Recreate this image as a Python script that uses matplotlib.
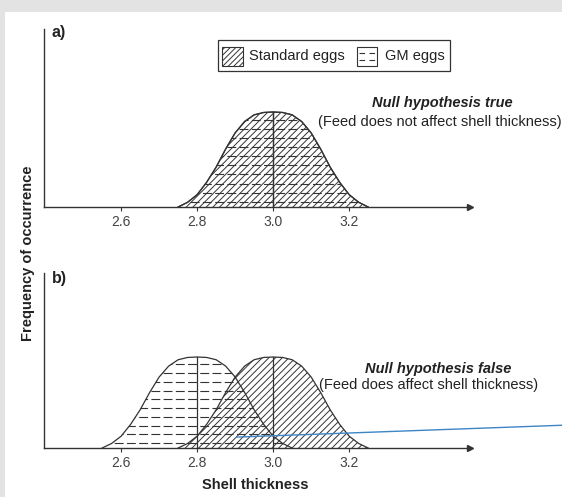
import matplotlib
matplotlib.use('Agg')
import matplotlib.pyplot as plt
from matplotlib.patches import Rectangle
import numpy as np

plt.rcParams['font.family'] = ['Liberation Sans', 'DejaVu Sans']
plt.rcParams['hatch.linewidth'] = 0.7

## bell shape: offset from the mean, height relative to the peak
profile_offset = [-0.25, -0.225, -0.2, -0.175, -0.15, -0.125, -0.1, -0.075, -0.05, -0.025, 0.0,
                  0.025, 0.05, 0.075, 0.1, 0.125, 0.15, 0.175, 0.2, 0.225, 0.25]
profile_height = [0.0, 0.05, 0.13, 0.26, 0.42, 0.61, 0.78, 0.90, 0.97, 0.995, 1.0,
                  0.995, 0.97, 0.90, 0.78, 0.61, 0.42, 0.26, 0.13, 0.05, 0.0]

## means of the two distributions in each panel
mean_std_a = 3.0
mean_gm_a = 3.0
mean_std_b = 3.0
mean_gm_b = 2.8

xticks = [2.6, 2.8, 3.0, 3.2]
xtick_labels = ['2.6', '2.8', '3.0', '3.2']

## stray blue line in panel b (data coords)
blue_x = [2.905, 3.76]
blue_y = [0.12, 0.25]

INK = '#333333'
TXT = '#222222'
W, H = 562, 497
FS = 10.5

fig = plt.figure(figsize=(W / 100, H / 100), dpi=100)
fig.patch.set_facecolor('white')


def draw_standard(ax, mean):
    xs = np.array(profile_offset) + mean
    ys = np.array(profile_height)
    ax.fill(xs, ys, facecolor='none', edgecolor=INK, hatch='/////', lw=0, zorder=2)
    ax.plot(xs, ys, color=INK, lw=0.9, zorder=4)
    ax.plot([mean, mean], [0, ys.max()], color=INK, lw=0.9, zorder=4)


def draw_gm(ax, mean):
    xs = np.array(profile_offset) + mean
    ys = np.array(profile_height)
    poly = ax.fill(xs, ys, facecolor='none', edgecolor='none', lw=0)[0]
    for level in np.arange(0.055, 0.95, 0.096):
        ln, = ax.plot([xs[0], xs[-1]], [level, level], color=INK, lw=0.8,
                      dashes=(8, 3), zorder=3)
        ln.set_clip_path(poly)
    ax.plot(xs, ys, color=INK, lw=0.9, zorder=4)
    ax.plot([mean, mean], [0, ys.max()], color=INK, lw=0.9, zorder=4)


def setup_axes(ax, ytop):
    ax.set_xlim(2.397, 3.518)
    ax.set_ylim(0, ytop)
    for s in ['top', 'right']:
        ax.spines[s].set_visible(False)
    for s in ['left', 'bottom']:
        ax.spines[s].set_color(INK)
        ax.spines[s].set_linewidth(1.0)
    ax.set_yticks([])
    ax.set_xticks(xticks)
    ax.set_xticklabels(xtick_labels)
    ax.tick_params(axis='x', length=3, width=0.8, color=INK, pad=3,
                   labelsize=10, labelcolor='#444444')
    ax.plot(1, 0, '>', color=INK, ms=4, transform=ax.get_yaxis_transform(), clip_on=False)
    ax.plot(0, 1, '^', color=INK, ms=4, transform=ax.get_xaxis_transform(), clip_on=False)
    ax.patch.set_alpha(0)


left = 44 / W
width = 426 / W
ax_a = fig.add_axes([left, 1 - 207 / H, width, 178 / H])
ax_b = fig.add_axes([left, 1 - 448 / H, width, 175 / H])

setup_axes(ax_a, 178 / 95)
draw_gm(ax_a, mean_gm_a)
draw_standard(ax_a, mean_std_a)

setup_axes(ax_b, 175 / 91)
draw_gm(ax_b, mean_gm_b)
draw_standard(ax_b, mean_std_b)
ax_b.plot(blue_x, blue_y, color='#3d85c6', lw=1.0, zorder=5, clip_on=False)

## overlay in pixel coordinates for frame, legend and labels
ov = fig.add_axes([0, 0, 1, 1], zorder=-1)
ov.set_xlim(0, W)
ov.set_ylim(H, 0)
ov.axis('off')
ov.add_patch(Rectangle((0, 0), W, 12, facecolor='#e3e3e3', edgecolor='none'))
ov.add_patch(Rectangle((0, 0), 5, H, facecolor='#e3e3e3', edgecolor='none'))

lg = fig.add_axes([0, 0, 1, 1], zorder=10)
lg.set_xlim(0, W)
lg.set_ylim(H, 0)
lg.axis('off')
lg.add_patch(Rectangle((218, 40), 232, 31, facecolor='white', edgecolor=INK, lw=0.9))
lg.add_patch(Rectangle((222, 47), 21, 19, facecolor='white', edgecolor=INK, lw=0.8, hatch='//////'))
lg.text(249, 56, 'Standard eggs', fontsize=FS, color=TXT, va='center', ha='left')
lg.add_patch(Rectangle((357, 47), 20, 19, facecolor='white', edgecolor=INK, lw=0.8))
for yy in [53, 60]:
    lg.plot([359, 375.5], [yy, yy], color=INK, lw=0.8, dashes=(5, 4))
lg.text(385, 56, 'GM eggs', fontsize=FS, color=TXT, va='center', ha='left')

lg.text(52, 33, 'a)', fontsize=11.5, fontweight='bold', color=TXT, va='center', ha='left')
lg.text(52, 278, 'b)', fontsize=11.5, fontweight='bold', color=TXT, va='center', ha='left')

lg.text(442, 103, 'Null hypothesis true', fontsize=FS, fontweight='bold', fontstyle='italic',
        color=TXT, va='center', ha='center')
lg.text(440, 122, '(Feed does not affect shell thickness)', fontsize=FS, color=TXT,
        va='center', ha='center')
lg.text(438, 369, 'Null hypothesis false', fontsize=FS, fontweight='bold', fontstyle='italic',
        color=TXT, va='center', ha='center')
lg.text(429, 385, '(Feed does affect shell thickness)', fontsize=FS, color=TXT,
        va='center', ha='center')

lg.text(255, 485, 'Shell thickness', fontsize=10.5, fontweight='bold', color=TXT,
        va='center', ha='center')
lg.text(28, 253, 'Frequency of occurrence', fontsize=10.5, fontweight='bold', color=TXT,
        va='center', ha='center', rotation=90)

fig.savefig('out.png', dpi=100)
